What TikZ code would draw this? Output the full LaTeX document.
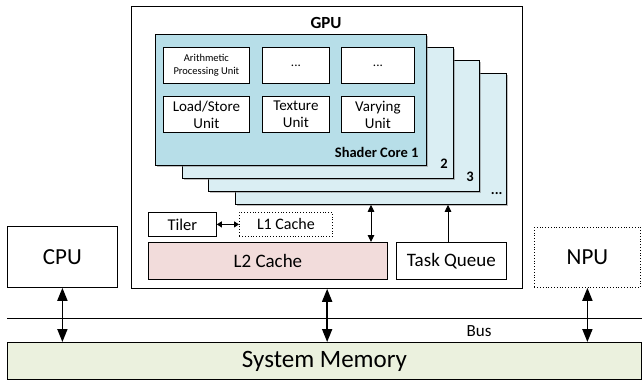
\documentclass[tikz,border=0pt]{standalone}
\usepackage{fontspec}
\setmainfont{Carlito}
\usetikzlibrary{arrows.meta,shadows}
\definecolor{coreA}{HTML}{B7DEE8}
\definecolor{coreB}{HTML}{DAEEF3}
\definecolor{ltwo}{HTML}{F2DCDB}
\definecolor{mem}{HTML}{EBF1DE}
\begin{document}
\begin{tikzpicture}[x=1pt,y=-1pt,
  box/.style={draw, line width=0.8pt, inner sep=0pt, align=center, anchor=north west, fill=white},
  core/.style={box, fill=coreB, drop shadow={shadow xshift=1.8pt, shadow yshift=-1.8pt, opacity=0.5}},
  unit/.style={box, font=\fontsize{15}{17}\selectfont},
  corelbl/.style={anchor=base east, inner sep=0pt, font=\bfseries\fontsize{14.5}{16}\selectfont},
  busarrow/.style={line width=1.8pt, {Triangle[length=13pt,width=10pt]}-{Triangle[length=13pt,width=10pt]}},
  inarrow/.style={line width=1pt}
]
\useasboundingbox (0,0) rectangle (642,381);
% GPU
\node[box, line width=1.3pt, minimum width=391, minimum height=282] (gpu) at (131,5.5) {};
\node[font=\bfseries\fontsize{17}{19}\selectfont, inner sep=0pt] (gpulbl) at (326,23) {GPU};
% shader cores
\node[core, minimum width=271, minimum height=131] (core4) at (235,73) {};
\node[core, minimum width=271, minimum height=131] (core3) at (208,60) {};
\node[core, minimum width=271, minimum height=131] (core2) at (182,47) {};
\node[core, fill=coreA, minimum width=271, minimum height=131] (core1) at (155,34) {};
\node[corelbl, xshift=-4pt, yshift=10pt] (lbl4) at (core4.south east) {...};
\node[corelbl, xshift=-6pt, yshift=10pt] (lbl3) at (core3.south east) {3};
\node[corelbl, xshift=-6pt, yshift=10pt] (lbl2) at (core2.south east) {2};
\node[corelbl, xshift=-8pt, yshift=8pt] (lbl1) at (core1.south east) {Shader Core 1};
% units
\node[box, font=\fontsize{10.5}{13}\selectfont, minimum width=86, minimum height=36] (apu) at (163,47) {Arithmetic\\Processing Unit};
\node[unit, font=\fontsize{13}{15}\selectfont, minimum width=67, minimum height=36] (dotsa) at (262,47) {...};
\node[unit, font=\fontsize{13}{15}\selectfont, minimum width=73, minimum height=36] (dotsb) at (341,47) {...};
\node[unit, minimum width=86, minimum height=36] (lsu) at (163,96) {Load/Store\\Unit};
\node[unit, minimum width=67, minimum height=36] (tu) at (262,96) {Texture\\Unit};
\node[unit, minimum width=73, minimum height=36] (vu) at (341,96) {Varying\\Unit};
% lower GPU
\node[box, font=\fontsize{16.5}{18}\selectfont, minimum width=68, minimum height=24] (tiler) at (148,212) {Tiler};
\node[box, dotted, font=\fontsize{16}{18}\selectfont, minimum width=93, minimum height=24] (l1) at (239,212) {L1 Cache};
\node[box, fill=ltwo, font=\fontsize{19}{21}\selectfont, minimum width=239, minimum height=37] (l2) at (148,242) {L2 Cache};
\node[box, font=\fontsize{19}{21}\selectfont, minimum width=110, minimum height=37] (tq) at (396,242) {Task Queue};
% other processors
\node[box, font=\fontsize{23}{25}\selectfont, minimum width=110, minimum height=61] (cpu) at (7,226) {CPU};
\node[box, dotted, font=\fontsize{23}{25}\selectfont, minimum width=106, minimum height=60] (npu) at (534,227) {NPU};
% memory and bus
\node[box, fill=mem, line width=1pt, font=\fontsize{25}{27}\selectfont, minimum width=634, minimum height=37] (mem) at (7,342) {System Memory};
\coordinate (busl) at (7,318);
\coordinate (busr) at (642,318);
\draw[line width=0.8pt] (busl) -- (busr);
\node[font=\fontsize{17}{19}\selectfont, inner sep=0pt] (buslbl) at (479,331) {Bus};
% arrows
\draw[busarrow] (cpu.south) -- (cpu.south |- mem.north);
\draw[busarrow] (gpu.south) -- (gpu.south |- mem.north);
\draw[busarrow] (npu.south) -- (npu.south |- mem.north);
\coordinate (xl2) at (371,0);
\coordinate (xtq) at (448,0);
\draw[inarrow, {Triangle[length=7pt,width=6.5pt]}-{Triangle[length=7pt,width=6.5pt]}] (l2.north -| xl2) -- (core4.south -| xl2);
\draw[inarrow, -{Triangle[length=7pt,width=6.5pt]}] (tq.north -| xtq) -- (core4.south -| xtq);
\draw[line width=1pt, {Triangle[length=5pt,width=6pt]}-{Triangle[length=5pt,width=6pt]}] (tiler.east) -- (l1.west);
\end{tikzpicture}
\end{document}
